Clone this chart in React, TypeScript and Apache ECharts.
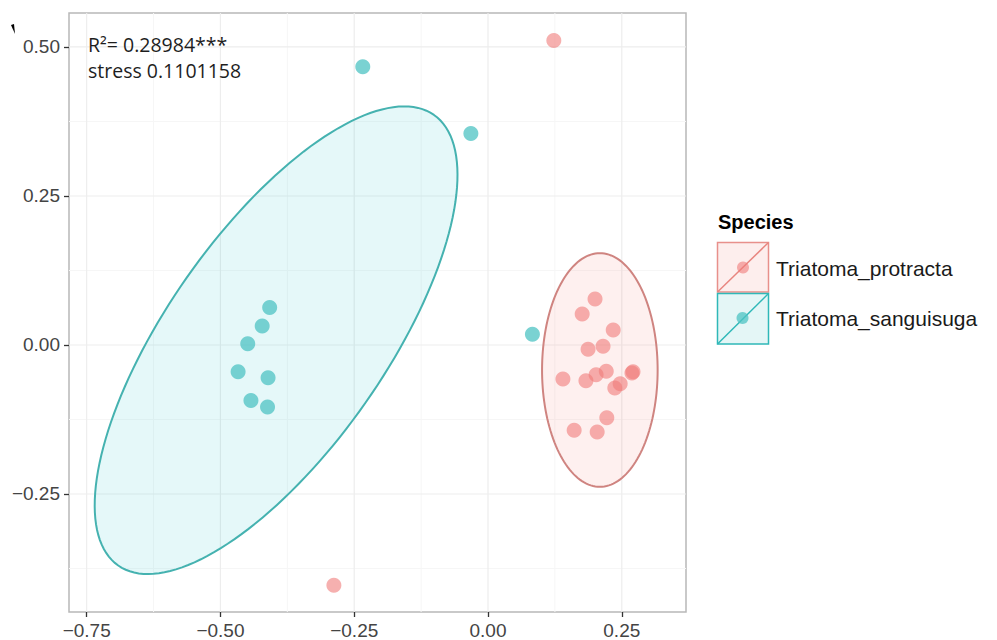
import React, { useEffect, useRef } from "react";
import * as echarts from "echarts";

// ---- data ----
const speciesNames = ["Triatoma_protracta", "Triatoma_sanguisuga"];
const speciesColors = ["#F07C7A", "#4EC3C3"];

const protractaX = [0.200, 0.176, 0.234, 0.187, 0.215, 0.140, 0.183, 0.202, 0.221, 0.269, 0.271, 0.237, 0.247, 0.161, 0.204, 0.222, 0.123, -0.288];
const protractaY = [0.077, 0.052, 0.025, -0.007, -0.002, -0.057, -0.060, -0.050, -0.044, -0.047, -0.045, -0.072, -0.065, -0.143, -0.146, -0.122, 0.511, -0.403];

const sanguisugaX = [-0.234, -0.032, 0.083, -0.408, -0.422, -0.449, -0.467, -0.411, -0.443, -0.412];
const sanguisugaY = [0.467, 0.355, 0.018, 0.063, 0.032, 0.002, -0.045, -0.055, -0.093, -0.104];

// ellipse: centre x, centre y, conjugate semi-axis u (x,y), v (x,y)
const ellipseProtracta = [0.209, -0.042, 0.0, 0.196, 0.108, 0.0];
const ellipseSanguisuga = [-0.396, 0.008, 0.295, 0.378, 0.167, -0.105];

const xTicks = [-0.75, -0.5, -0.25, 0, 0.25];
const yTicks = [-0.25, 0, 0.25, 0.5];
const xMinorGrid = [-0.625, -0.375, -0.125, 0.125];
const yMinorGrid = [-0.375, -0.125, 0.125, 0.375];
const xRange = [-0.783, 0.37];
const yRange = [-0.448, 0.557];

const statLines = ["R\u00B2= 0.28984***", "stress 0.1101158"];
const legendTitle = "Species";

const fmt = (v: number) => {
  const s = Math.abs(v).toFixed(2);
  return v < -1e-9 ? "\u2212" + s : s;
};

function ellipseSeries(params: number[], color: string, stroke: string) {
  return {
    type: "custom",
    silent: true,
    z: 2,
    data: [[params[0], params[1]]],
    renderItem: (_p: any, api: any) => {
      const [cx, cy, ux, uy, vx, vy] = params;
      const pts: number[][] = [];
      const n = 160;
      for (let i = 0; i <= n; i++) {
        const t = (2 * Math.PI * i) / n;
        pts.push(api.coord([cx + ux * Math.cos(t) + vx * Math.sin(t), cy + uy * Math.cos(t) + vy * Math.sin(t)]));
      }
      return {
        type: "polygon",
        shape: { points: pts },
        style: { fill: color, opacity: 1, stroke, lineWidth: 2 },
      };
    },
  };
}

const labelStyle = {
  color: "#444444",
  fontSize: 19,
  fontFamily: "Liberation Sans, Arial, sans-serif",
  margin: 9,
};

export default function App() {
  const ref = useRef<HTMLDivElement>(null);
  useEffect(() => {
    if (!ref.current) return;
    const chart = echarts.init(ref.current, null, { renderer: "svg" });
    const gridSeries = {
      type: "custom",
      silent: true,
      z: 1,
      data: [[0, 0]],
      renderItem: (params: any, api: any) => {
        const cs = params.coordSys;
        const children: any[] = [];
        const addV = (v: number, color: string, w: number) => {
          const x = api.coord([v, 0])[0];
          children.push({ type: "line", shape: { x1: x, y1: cs.y, x2: x, y2: cs.y + cs.height }, style: { stroke: color, lineWidth: w } });
        };
        const addH = (v: number, color: string, w: number) => {
          const y = api.coord([0, v])[1];
          children.push({ type: "line", shape: { x1: cs.x, y1: y, x2: cs.x + cs.width, y2: y }, style: { stroke: color, lineWidth: w } });
        };
        xMinorGrid.forEach((v) => addV(v, "#F6F6F6", 1));
        yMinorGrid.forEach((v) => addH(v, "#F6F6F6", 1));
        xTicks.forEach((v) => addV(v, "#EDEDED", 1.2));
        yTicks.forEach((v) => addH(v, "#EDEDED", 1.2));
        return { type: "group", children };
      },
    };

    const option: any = {
      animation: false,
      backgroundColor: "#ffffff",
      grid: {
        left: 69,
        top: 13,
        right: 311,
        bottom: 28,
        show: true,
        backgroundColor: "#ffffff",
        borderColor: "#B8B8B8",
        borderWidth: 1.5,
        containLabel: false,
        outerBoundsMode: "none",
      },
      xAxis: {
        type: "value",
        min: xRange[0],
        max: xRange[1],
        axisLine: { show: false, onZero: false },
        splitLine: { show: false },
        axisTick: { show: true, length: 5, customValues: xTicks, lineStyle: { color: "#333333", width: 1.3 } },
        axisLabel: { customValues: xTicks, formatter: (v: number) => fmt(v), ...labelStyle },
      },
      yAxis: {
        type: "value",
        min: yRange[0],
        max: yRange[1],
        axisLine: { show: false, onZero: false },
        splitLine: { show: false },
        axisTick: { show: true, length: 5, customValues: yTicks, lineStyle: { color: "#333333", width: 1.3 } },
        axisLabel: { customValues: yTicks, formatter: (v: number) => fmt(v), ...labelStyle },
      },
      series: [
        gridSeries,
        ellipseSeries(ellipseSanguisuga, "rgba(0,191,196,0.10)", "#45B2B0"),
        ellipseSeries(ellipseProtracta, "rgba(248,118,109,0.11)", "#CF8480"),
        {
          name: speciesNames[0],
          type: "scatter",
          z: 3,
          symbolSize: 15,
          itemStyle: { color: speciesColors[0], opacity: 0.6 },
          data: protractaX.map((x, i) => [x, protractaY[i]]),
        },
        {
          name: speciesNames[1],
          type: "scatter",
          z: 3,
          symbolSize: 15,
          itemStyle: { color: speciesColors[1], opacity: 0.75 },
          data: sanguisugaX.map((x, i) => [x, sanguisugaY[i]]),
        },
      ],
      graphic: [
        {
          type: "text",
          left: 88,
          top: 34,
          z: 10,
          style: { text: statLines[0], fill: "#1E1E1E", font: "19.5px 'Open Sans', sans-serif" },
        },
        {
          type: "text",
          left: 88,
          top: 60,
          z: 10,
          style: { text: statLines[1], fill: "#1E1E1E", font: "19.5px 'Open Sans', sans-serif" },
        },
        {
          type: "polygon",
          shape: { points: [[11, 25], [14, 24], [15, 34]] },
          style: { fill: "#000" },
        },
        {
          type: "text",
          x: 718,
          y: 222,
          style: { text: legendTitle, fill: "#000", font: "bold 20px 'Liberation Sans', Arial, sans-serif", verticalAlign: "middle", textAlign: "left" },
        },
        // key 1
        { type: "rect", shape: { x: 717.5, y: 242.5, width: 51, height: 49.5 }, style: { fill: "#FDEEED", stroke: "#E8908B", lineWidth: 1.5 } },
        { type: "line", shape: { x1: 717.5, y1: 292, x2: 768.5, y2: 242.5 }, style: { stroke: "#E8857F", lineWidth: 1.5 } },
        { type: "circle", shape: { cx: 743, cy: 267.5, r: 6 }, style: { fill: speciesColors[0], opacity: 0.6 } },
        {
          type: "text",
          x: 776,
          y: 268,
          style: { text: speciesNames[0], fill: "#1A1A1A", font: "21px 'Liberation Sans', Arial, sans-serif", verticalAlign: "middle" },
        },
        // key 2
        { type: "rect", shape: { x: 717.5, y: 293.5, width: 51, height: 50.5 }, style: { fill: "#E4F6F6", stroke: "#2FB8B8", lineWidth: 1.5 } },
        { type: "line", shape: { x1: 717.5, y1: 344, x2: 768.5, y2: 293.5 }, style: { stroke: "#2FB8B8", lineWidth: 1.5 } },
        { type: "circle", shape: { cx: 742.5, cy: 318, r: 6 }, style: { fill: speciesColors[1], opacity: 0.75 } },
        {
          type: "text",
          x: 776,
          y: 318,
          style: { text: speciesNames[1], fill: "#1A1A1A", font: "21px 'Liberation Sans', Arial, sans-serif", verticalAlign: "middle" },
        },
      ],
    };
    chart.setOption(option);
    return () => chart.dispose();
  }, []);
  return <div ref={ref} style={{ position: "fixed", left: 0, top: 0, width: 997, height: 640 }} />;
}
